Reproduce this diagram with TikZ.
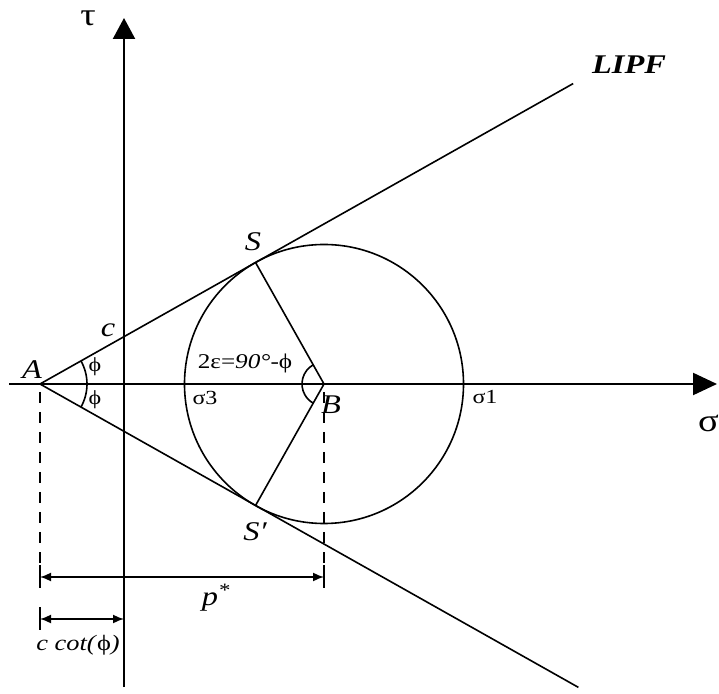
\documentclass[tikz,border=0pt]{standalone}
\usepackage{fontspec}
\setmainfont{Liberation Serif}[FakeStretch=1.2]
\usetikzlibrary{arrows.meta,calc}
\begin{document}
\begin{tikzpicture}[x=1pt,y=1pt,
  axis/.style={line width=2.2pt},
  thinln/.style={line width=1.6pt},
  lbl/.style={inner sep=0pt, font=\fontsize{27}{29}\selectfont\itshape},
  sm/.style={inner sep=0pt, font=\fontsize{20}{22}\selectfont},
  big/.style={inner sep=0pt, font=\fontsize{32}{34}\selectfont},
  dim/.style={line width=1.6pt, {Latex[length=11pt,width=9pt]}-{Latex[length=11pt,width=9pt]}},
  dashln/.style={line width=1.6pt, dash pattern=on 11pt off 9pt}]
\useasboundingbox (0,0) rectangle (719,693);
\def\ph{29.4}
\def\rad{139.5}
\coordinate (A) at (40,309);
\coordinate (B) at (324,309);
\coordinate (Xl) at (9,309);
\coordinate (Xr) at (717,309);
\coordinate (Yb) at (124,6);
\coordinate (Yt) at (124,675);
\draw[axis,-{Triangle[length=24pt,width=22pt]}] (Xl) -- (Xr);
\draw[axis,-{Triangle[length=21pt,width=22pt]}] (Yb) -- (Yt);
% circle and tangent lines
\draw[thinln] (B) circle (\rad);
\coordinate (S) at ($(B)+(90+\ph:\rad)$);
\coordinate (S2) at ($(B)+(-90-\ph:\rad)$);
\coordinate (L1) at ($(A)+(\ph:612)$);
\coordinate (L2) at ($(A)+(-\ph:618)$);
\draw[thinln] (A) -- (L1);
\draw[thinln] (A) -- (L2);
\draw[thinln] (B) -- (S);
\draw[thinln] (B) -- (S2);
% angle arcs
\draw[thinln] ($(A)+(-\ph:47)$) arc[start angle=-\ph, end angle=\ph, radius=47];
\draw[thinln] ($(B)+(90+\ph:22)$) arc[start angle=90+\ph, end angle=270-\ph, radius=22];
% dashed verticals
\coordinate (Ad1) at (40,301);
\coordinate (Ad2) at (40,105);
\coordinate (Bd1) at (324,301);
\coordinate (Bd2) at (324,105);
\draw[dashln] (Ad1) -- (Ad2);
\draw[dashln] (Bd1) -- (Bd2);
% dimension p*
\coordinate (P1) at (40,116);
\coordinate (P2) at (324,116);
\draw[dim] (P1) -- (P2);
\draw[thinln] (40,128) -- (40,105);
\draw[thinln] (324,128) -- (324,105);
% dimension c cot
\coordinate (C1) at (40,74);
\coordinate (C2) at (124,74);
\draw[dim] (C1) -- (C2);
\draw[thinln] (40,86) -- (40,63);
% labels
\node[big] (tau) at (88,675) {τ};
\node[big,anchor=east] (sig) at (719,270) {σ};
\node[lbl,font=\fontsize{27}{29}\selectfont\itshape\bfseries] (lipf) at (629,628) {LIPF};
\node[lbl] (Sl) at (253,451) {S};
\node[lbl] (S2l) at (255,161) {S′};
\node[lbl] (cl) at (108,363) {c};
\node[lbl] (Al) at (32,323) {A};
\node[sm] (ph1) at (95,326) {ϕ};
\node[sm] (ph2) at (95,293) {ϕ};
\node[sm,font=\fontsize{21}{23}\selectfont] (eps) at (245,330) {2ε=\textit{90°}-ϕ};
\node[sm] (s3) at (205,295) {σ3};
\node[sm] (s1) at (485,296) {σ1};
\node[lbl] (Bl) at (331,288) {B};
\node[lbl] (pl) at (216,95) {p\textsuperscript{*}};
\node[lbl,font=\fontsize{22}{24}\selectfont\itshape] (ccot) at (78,48) {c cot(\textup{ϕ})};
\end{tikzpicture}
\end{document}
